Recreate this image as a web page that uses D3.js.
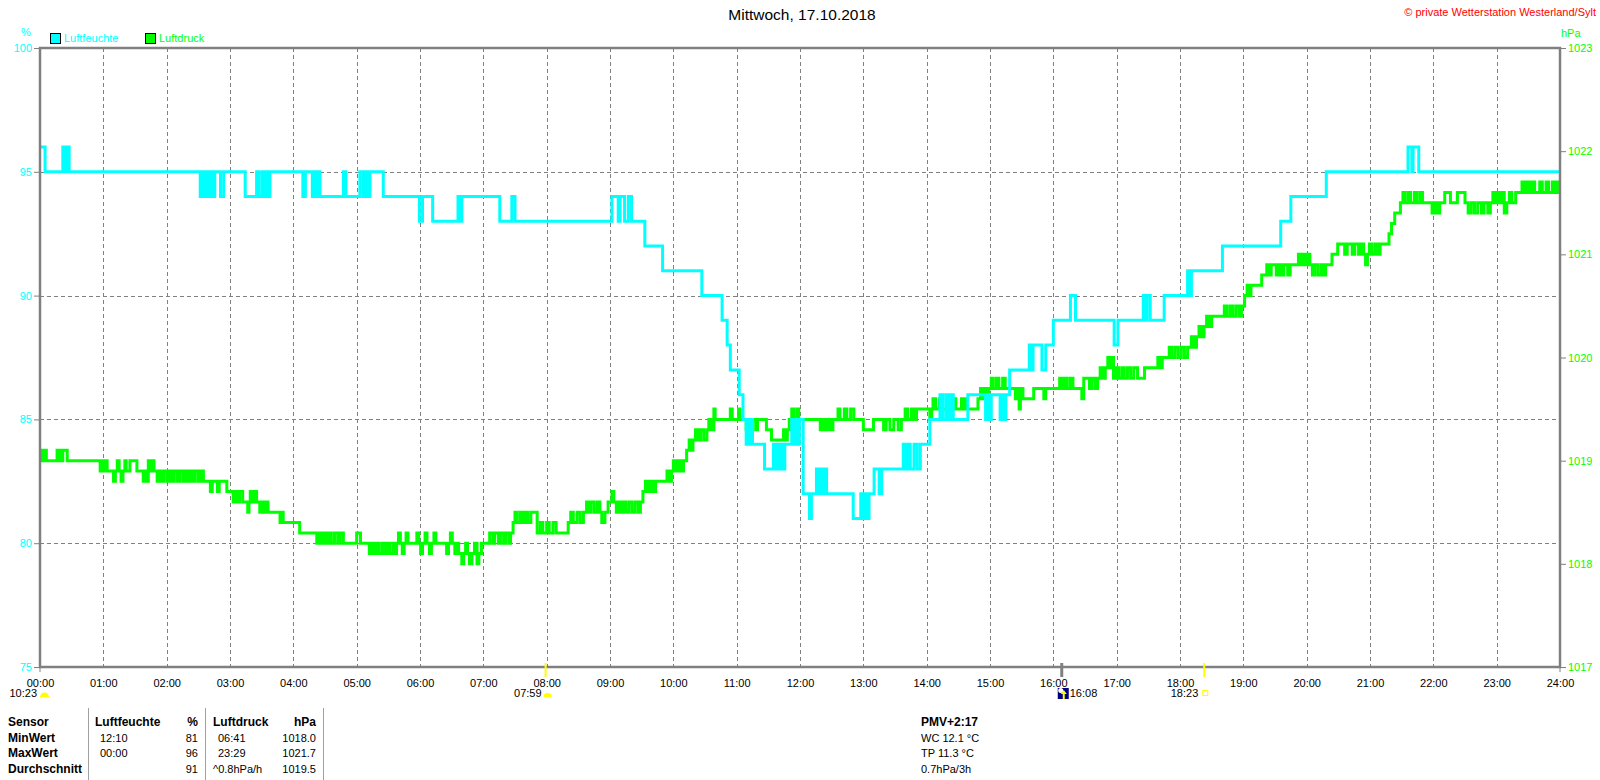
<!DOCTYPE html>
<html><head><meta charset="utf-8">
<script src="https://cdn.jsdelivr.net/npm/d3@7"></script>
<style>
html,body{margin:0;padding:0;background:#fff;}
svg{display:block;font-family:"Liberation Sans",Arial,sans-serif;}
</style></head>
<body>
<svg id="c" width="1600" height="780"></svg>
<script>
// ---------- DATA ----------
const title = "Mittwoch, 17.10.2018";
const copyright = "\u00A9 private Wetterstation Westerland/Sylt";
const seriesNames = ["Luftfeuchte", "Luftdruck"];
const hourTicks = d3.range(0, 25);
const humTicks = [75, 80, 85, 90, 95, 100];
const presTicks = [1017, 1018, 1019, 1020, 1021, 1022, 1023];

// Luftfeuchte (%): [hour, value] change points (step after)
const humidity = [
[0,96],[0.08,95],
[0.36,96],[0.38,95],[0.40,96],[0.43,95],[0.44,96],[0.46,95],
[2.53,94],[2.56,95],[2.58,94],[2.61,95],[2.63,94],[2.66,95],[2.68,94],[2.71,95],[2.73,94],[2.76,95],
[2.85,94],[2.9,95],
[3.24,94],
[3.42,95],[3.45,94],[3.5,95],[3.53,94],[3.56,95],[3.6,94],[3.63,95],
[4.15,94],[4.19,95],
[4.3,94],[4.33,95],[4.36,94],[4.39,95],[4.42,94],
[4.79,95],[4.83,94],
[5.05,95],[5.1,94],[5.14,95],[5.18,94],[5.21,95],
[5.42,94],
[5.99,93],[6.04,94],
[6.2,93],
[6.6,94],[6.63,93],[6.66,94],
[7.26,93],
[7.45,94],[7.5,93],
[9.03,94],[9.13,93],[9.16,94],[9.23,93],[9.29,94],[9.34,93],
[9.55,92],[9.83,91],[10.45,90],[10.77,89],[10.85,88],[10.9,87],[11.04,86],[11.1,85],
[11.15,84],[11.18,85],[11.21,84],[11.23,85],
[11.25,84],[11.44,83],
[11.58,84],[11.61,83],[11.64,84],[11.67,83],[11.7,84],[11.73,83],
[11.76,84],
[11.87,85],[11.9,84],[11.93,85],[11.96,84],[11.99,85],
[12.05,82],[12.15,81],[12.18,82],
[12.26,83],[12.29,82],[12.32,83],[12.35,82],[12.38,83],
[12.42,82],
[12.84,81],[12.96,82],[13.0,81],[13.04,82],[13.07,81],
[13.09,82],[13.17,83],[13.25,82],[13.29,83],
[13.63,84],[13.66,83],[13.7,84],[13.74,83],[13.8,84],[13.85,83],
[13.9,84],[14.05,85],
[14.21,86],[14.25,85],[14.3,86],[14.34,85],[14.38,86],[14.42,85],
[14.65,86],[14.93,85],[14.96,86],[14.99,85],[15.02,86],
[15.16,85],[15.2,86],[15.22,85],
[15.25,86],[15.31,87],
[15.62,88],[15.65,87],[15.68,88],
[15.82,87],[15.88,88],[16.0,89],[16.27,90],[16.35,89],[16.96,88],[17.02,89],
[17.42,90],[17.45,89],[17.48,90],[17.53,89],
[17.75,90],[18.12,91],[18.15,90],[18.18,91],
[18.67,92],[19.59,93],[19.75,94],[20.31,95],
[21.6,96],[21.66,95],[21.68,96],[21.77,95],
[24,95]
];

// Luftdruck (hPa): [hour, value] change points (step after)
const pressure = [
[0,1019.0],[0.02,1019.1],[0.04,1019.0],[0.05,1019.1],[0.07,1019.0],[0.08,1019.1],[0.1,1019.0],
[0.27,1019.1],[0.29,1019.0],[0.31,1019.1],[0.33,1019.0],[0.36,1019.1],[0.43,1019.0],
[0.95,1018.9],[0.98,1019.0],[1.0,1018.9],[1.03,1019.0],[1.06,1018.9],
[1.16,1018.8],[1.19,1018.9],[1.22,1019.0],[1.25,1018.9],[1.28,1018.8],[1.31,1018.9],[1.34,1019.0],[1.36,1018.9],
[1.42,1019.0],[1.53,1018.9],
[1.63,1018.8],[1.66,1018.9],[1.69,1018.8],[1.71,1019.0],[1.74,1018.9],[1.77,1019.0],[1.8,1018.9],
[1.85,1018.8],[1.88,1018.9],[1.92,1018.8],[1.95,1018.9],[2.0,1018.8],[2.04,1018.9],[2.08,1018.8],[2.12,1018.9],[2.17,1018.8],[2.21,1018.9],[2.26,1018.8],
[2.3,1018.9],[2.33,1018.8],[2.37,1018.9],[2.41,1018.8],[2.45,1018.9],[2.5,1018.8],[2.54,1018.9],[2.58,1018.8],
[2.69,1018.7],[2.72,1018.8],[2.8,1018.7],[2.83,1018.8],[2.95,1018.7],
[3.05,1018.6],[3.08,1018.7],[3.11,1018.6],[3.15,1018.7],[3.2,1018.6],
[3.28,1018.5],[3.3,1018.6],[3.32,1018.7],[3.35,1018.6],[3.38,1018.7],[3.42,1018.6],
[3.47,1018.5],[3.5,1018.6],[3.53,1018.5],[3.56,1018.6],[3.6,1018.5],
[3.79,1018.4],[3.82,1018.5],[3.84,1018.4],
[4.1,1018.3],
[4.37,1018.2],[4.4,1018.3],[4.44,1018.2],[4.48,1018.3],[4.52,1018.2],[4.56,1018.3],[4.6,1018.2],[4.65,1018.3],[4.7,1018.2],[4.74,1018.3],[4.79,1018.2],
[5.0,1018.3],[5.06,1018.2],
[5.2,1018.1],[5.23,1018.2],[5.27,1018.1],[5.31,1018.2],[5.35,1018.1],[5.4,1018.2],[5.44,1018.1],[5.48,1018.2],[5.52,1018.1],[5.57,1018.2],[5.6,1018.1],[5.63,1018.2],
[5.66,1018.3],[5.69,1018.2],[5.72,1018.1],[5.75,1018.2],[5.78,1018.3],[5.81,1018.2],
[5.95,1018.3],[5.98,1018.2],[6.01,1018.1],[6.04,1018.2],[6.08,1018.3],[6.11,1018.2],[6.15,1018.1],[6.18,1018.2],[6.22,1018.3],[6.25,1018.2],
[6.42,1018.1],[6.45,1018.2],[6.48,1018.3],[6.51,1018.2],[6.55,1018.1],[6.58,1018.2],[6.61,1018.1],
[6.66,1018.0],[6.69,1018.1],[6.72,1018.2],[6.75,1018.1],[6.78,1018.0],[6.82,1018.1],[6.86,1018.2],[6.9,1018.0],[6.93,1018.1],[6.97,1018.2],
[7.1,1018.3],[7.15,1018.2],[7.18,1018.3],[7.24,1018.2],[7.27,1018.3],[7.32,1018.2],[7.35,1018.3],[7.4,1018.2],[7.43,1018.3],
[7.47,1018.4],[7.5,1018.5],[7.53,1018.4],[7.58,1018.5],[7.62,1018.4],[7.66,1018.5],[7.7,1018.4],[7.75,1018.5],
[7.85,1018.3],[7.9,1018.4],[7.94,1018.3],[8.0,1018.4],[8.04,1018.3],[8.1,1018.4],[8.15,1018.3],
[8.34,1018.4],[8.38,1018.5],[8.42,1018.4],[8.48,1018.5],[8.53,1018.4],[8.58,1018.5],
[8.63,1018.6],[8.67,1018.5],[8.7,1018.6],[8.75,1018.5],[8.8,1018.6],[8.84,1018.5],
[8.87,1018.4],[8.92,1018.5],
[8.97,1018.6],[9.03,1018.7],[9.06,1018.6],
[9.1,1018.5],[9.13,1018.6],[9.17,1018.5],[9.21,1018.6],[9.25,1018.5],[9.3,1018.6],[9.35,1018.5],[9.4,1018.6],[9.45,1018.5],[9.48,1018.6],
[9.52,1018.7],[9.56,1018.8],[9.6,1018.7],[9.64,1018.8],[9.68,1018.7],[9.72,1018.8],
[9.9,1018.9],[9.94,1018.8],[9.97,1018.9],
[10.0,1019.0],[10.04,1018.9],[10.08,1019.0],[10.12,1018.9],[10.16,1019.0],
[10.21,1019.1],[10.25,1019.2],[10.28,1019.1],
[10.31,1019.2],[10.35,1019.3],[10.39,1019.2],[10.43,1019.3],[10.48,1019.2],
[10.53,1019.3],[10.56,1019.4],[10.6,1019.3],[10.64,1019.5],[10.66,1019.4],
[10.9,1019.5],[10.93,1019.4],
[11.03,1019.5],[11.05,1019.4],
[11.15,1019.3],[11.18,1019.4],[11.22,1019.3],[11.25,1019.4],[11.3,1019.3],[11.33,1019.4],
[11.47,1019.3],[11.55,1019.2],
[11.74,1019.3],[11.77,1019.2],[11.8,1019.3],[11.83,1019.4],
[11.87,1019.5],[11.9,1019.4],[11.95,1019.5],[11.98,1019.4],
[12.32,1019.3],[12.36,1019.4],[12.4,1019.3],[12.44,1019.4],[12.48,1019.3],[12.52,1019.4],
[12.6,1019.5],[12.63,1019.4],[12.7,1019.5],[12.74,1019.4],[12.8,1019.5],[12.85,1019.4],
[13.0,1019.3],[13.16,1019.4],
[13.32,1019.3],[13.36,1019.4],[13.42,1019.3],[13.48,1019.4],[13.55,1019.3],[13.6,1019.4],
[13.66,1019.5],[13.7,1019.4],[13.76,1019.5],[13.8,1019.4],
[13.84,1019.5],
[14.05,1019.4],[14.08,1019.5],
[14.1,1019.6],[14.14,1019.5],[14.2,1019.6],[14.25,1019.5],[14.32,1019.6],[14.36,1019.5],[14.42,1019.6],[14.46,1019.5],
[14.55,1019.6],[14.58,1019.5],[14.62,1019.6],[14.64,1019.5],
[14.81,1019.6],[14.85,1019.7],[14.88,1019.6],[14.92,1019.7],[14.95,1019.6],
[14.98,1019.7],[15.02,1019.8],[15.05,1019.7],[15.1,1019.8],[15.14,1019.7],[15.2,1019.8],[15.24,1019.7],
[15.4,1019.6],[15.43,1019.7],[15.46,1019.5],[15.48,1019.6],[15.5,1019.7],[15.52,1019.6],
[15.69,1019.7],[15.85,1019.6],[15.88,1019.7],
[16.1,1019.8],[16.14,1019.7],[16.18,1019.8],[16.22,1019.7],[16.27,1019.8],[16.31,1019.7],
[16.45,1019.6],[16.48,1019.8],
[16.57,1019.7],[16.61,1019.8],[16.66,1019.7],[16.7,1019.8],
[16.74,1019.9],[16.78,1019.8],[16.82,1019.9],
[16.86,1020.0],[16.9,1019.9],[16.93,1020.0],
[16.95,1019.8],[16.99,1019.9],[17.03,1019.8],[17.08,1019.9],[17.12,1019.8],[17.17,1019.9],[17.22,1019.8],[17.27,1019.9],
[17.33,1019.8],
[17.44,1019.9],
[17.65,1020.0],[17.68,1019.9],[17.72,1020.0],
[17.83,1020.1],[17.87,1020.0],[17.92,1020.1],[17.97,1020.0],[18.02,1020.1],[18.07,1020.0],[18.12,1020.1],
[18.18,1020.2],[18.22,1020.1],
[18.26,1020.2],[18.3,1020.3],[18.34,1020.2],
[18.38,1020.3],[18.42,1020.4],[18.46,1020.3],[18.5,1020.4],
[18.7,1020.5],[18.74,1020.4],[18.79,1020.5],[18.83,1020.4],[18.88,1020.5],[18.93,1020.4],[18.97,1020.5],
[19.02,1020.6],[19.06,1020.7],[19.09,1020.6],[19.12,1020.7],
[19.29,1020.8],
[19.37,1020.9],[19.4,1020.8],[19.44,1020.9],
[19.52,1020.8],[19.56,1020.9],[19.6,1020.8],[19.64,1020.9],[19.7,1020.8],[19.74,1020.9],
[19.87,1021.0],[19.9,1020.9],[19.94,1021.0],[19.98,1020.9],[20.02,1021.0],
[20.05,1020.9],[20.09,1020.8],[20.13,1020.9],[20.18,1020.8],[20.23,1020.9],[20.27,1020.8],
[20.3,1020.9],
[20.4,1021.0],[20.49,1021.1],[20.6,1021.0],[20.64,1021.1],[20.72,1021.0],[20.76,1021.1],[20.82,1021.0],[20.86,1021.1],
[20.9,1021.0],[20.93,1020.9],[20.96,1021.0],[20.99,1021.1],[21.03,1021.0],[21.08,1021.1],[21.12,1021.0],
[21.16,1021.1],
[21.3,1021.2],[21.34,1021.3],[21.39,1021.4],
[21.48,1021.5],[21.52,1021.6],[21.55,1021.5],[21.6,1021.6],[21.64,1021.5],[21.7,1021.6],[21.74,1021.5],[21.79,1021.6],
[21.83,1021.5],
[21.98,1021.4],[22.02,1021.5],[22.06,1021.4],
[22.1,1021.5],[22.18,1021.6],[22.27,1021.5],[22.38,1021.6],[22.5,1021.5],
[22.55,1021.4],[22.6,1021.5],[22.65,1021.4],[22.7,1021.5],[22.76,1021.4],[22.8,1021.5],[22.86,1021.4],[22.9,1021.5],
[22.94,1021.6],[22.98,1021.5],[23.02,1021.6],[23.06,1021.5],[23.1,1021.6],
[23.12,1021.4],[23.16,1021.5],
[23.2,1021.6],[23.24,1021.5],[23.3,1021.6],
[23.4,1021.7],[23.44,1021.6],[23.48,1021.7],[23.52,1021.6],[23.56,1021.7],[23.6,1021.6],
[23.68,1021.7],[23.72,1021.6],[23.78,1021.7],[23.82,1021.6],[23.88,1021.7],[23.92,1021.6],[23.96,1021.7],
[24,1021.7]
];

// event markers on the time axis
const eventHours = [7.983, 16.133, 18.383];
const eventLabels = ["07:59", "16:08", "18:23"];
const moonLabel = "10:23";

// summary table
const tableHeader = ["Sensor", "Luftfeuchte", "%", "Luftdruck", "hPa"];
const rowNames = ["MinWert", "MaxWert", "Durchschnitt"];
const humTimes = ["12:10", "00:00", ""];
const humValues = ["81", "96", "91"];
const presTimes = ["06:41", "23:29", "^0.8hPa/h"];
const presValues = ["1018.0", "1021.7", "1019.5"];
const pmvLines = ["PMV+2:17", "WC 12.1 \u00B0C", "TP 11.3 \u00B0C", "0.7hPa/3h"];

// ---------- DRAW ----------
const svg = d3.select("#c");
const L = 40, R = 1560, T = 48, B = 667;
const CYAN = "#00ffff", GREEN = "#00ff00", GRAY = "#808080";

const x = d3.scaleLinear().domain([0, 24]).range([L, R]);
const yH = d3.scaleLinear().domain([75, 100]).range([B, T]);
const yP = d3.scaleLinear().domain([1017, 1023]).range([B, T]);

// grid
const grid = svg.append("g").attr("stroke", GRAY).attr("stroke-width", 1).attr("stroke-dasharray", "4,3");
grid.selectAll("line.v").data(hourTicks.filter(h => h > 0 && h < 24)).join("line")
  .attr("x1", d => Math.round(x(d)) + 0.5).attr("x2", d => Math.round(x(d)) + 0.5)
  .attr("y1", T).attr("y2", B);
grid.selectAll("line.h").data(humTicks.filter(v => v > 75 && v < 100)).join("line")
  .attr("x1", L).attr("x2", R)
  .attr("y1", d => Math.round(yH(d)) + 0.5).attr("y2", d => Math.round(yH(d)) + 0.5);

// lines
const line = (ys) => d3.line().x(d => x(d[0])).y(d => ys(d[1])).curve(d3.curveStepAfter);
svg.append("path").datum(pressure).attr("d", line(yP))
  .attr("fill", "none").attr("stroke", GREEN).attr("stroke-width", 3).attr("stroke-linejoin", "miter");
svg.append("path").datum(humidity).attr("d", line(yH))
  .attr("fill", "none").attr("stroke", CYAN).attr("stroke-width", 3).attr("stroke-linejoin", "miter");

// frame
svg.append("rect").attr("x", L).attr("y", T).attr("width", R - L).attr("height", B - T)
  .attr("fill", "none").attr("stroke", GRAY).attr("stroke-width", 2.5);

// axes
const font = "Liberation Sans, Arial, sans-serif";
const axL = svg.append("g").attr("transform", `translate(${L - 1},0)`)
  .call(d3.axisLeft(yH).tickValues(humTicks).tickSize(5).tickPadding(2).tickFormat(d3.format("d")));
axL.select(".domain").remove();
axL.selectAll("line").attr("stroke", GRAY);
axL.selectAll("text").attr("fill", CYAN).attr("font-size", 11).attr("font-family", font);

const axR = svg.append("g").attr("transform", `translate(${R + 1},0)`)
  .call(d3.axisRight(yP).tickValues(presTicks).tickSize(5).tickPadding(2).tickFormat(d3.format("d")));
axR.select(".domain").remove();
axR.selectAll("line").attr("stroke", GRAY);
axR.selectAll("text").attr("fill", GREEN).attr("font-size", 11).attr("font-family", font);

const axB = svg.append("g").attr("transform", `translate(0,${B})`)
  .call(d3.axisBottom(x).tickValues(hourTicks).tickSize(0).tickPadding(12)
    .tickFormat(d => String(d).padStart(2, "0") + ":00"));
axB.select(".domain").remove();
axB.selectAll("text").attr("fill", "#000").attr("font-size", 11).attr("font-family", font);
// small ticks under the frame corners
svg.selectAll("line.cornertick").data([0, 24]).join("line")
  .attr("x1", d => x(d)).attr("x2", d => x(d)).attr("y1", B).attr("y2", B + 5)
  .attr("stroke", GRAY).attr("stroke-width", 1);

// unit labels
svg.append("text").attr("x", 26).attr("y", 36).attr("text-anchor", "middle")
  .attr("fill", CYAN).attr("font-size", 11).text("%");
svg.append("text").attr("x", 1561).attr("y", 37)
  .attr("fill", GREEN).attr("font-size", 11).text("hPa");

// title & copyright
svg.append("text").attr("x", 802).attr("y", 20).attr("text-anchor", "middle")
  .attr("font-size", 15.5).attr("fill", "#000").text(title);
svg.append("text").attr("x", 1596).attr("y", 16).attr("text-anchor", "end")
  .attr("font-size", 11).attr("fill", "#ff0000").text(copyright);

// legend
const legColors = [CYAN, GREEN];
const legX = [50, 145];
seriesNames.forEach((n, i) => {
  svg.append("rect").attr("x", legX[i] + 0.5).attr("y", 33.5).attr("width", 10).attr("height", 10)
    .attr("fill", legColors[i]).attr("stroke", "#000").attr("stroke-width", 1);
  svg.append("text").attr("x", legX[i] + 14).attr("y", 42).attr("font-size", 11)
    .attr("fill", legColors[i]).text(n);
});

// event ticks
const evColors = ["#ffff00", GRAY, "#ffff00"];
eventHours.forEach((h, i) => {
  svg.append("line").attr("x1", x(h)).attr("x2", x(h)).attr("y1", 663).attr("y2", 677)
    .attr("stroke", evColors[i]).attr("stroke-width", i === 1 ? 3 : 2);
});
// event labels row
const evY = 697;
// moon / left label
svg.append("text").attr("x", 37).attr("y", evY).attr("text-anchor", "end").attr("font-size", 11).text(moonLabel);
svg.append("path").attr("d", "M40,697 A4.5,4.5 0 0 1 49,697 Z").attr("fill", "#ffff00");
// 07:59 sunrise
svg.append("text").attr("x", x(eventHours[0]) - 4).attr("y", evY).attr("text-anchor", "end").attr("font-size", 11).text(eventLabels[0]);
svg.append("path").attr("d", `M${x(eventHours[0]) - 2},697 A4,4 0 0 1 ${x(eventHours[0]) + 6},697 Z`).attr("fill", "#ffff00");
// 16:08 icon + label
const ex = x(eventHours[1]);
svg.append("rect").attr("x", ex - 4).attr("y", 688).attr("width", 11).attr("height", 11).attr("fill", "#000080");
svg.append("circle").attr("cx", ex - 1).attr("cy", 690.5).attr("r", 2.5).attr("fill", "#fff");
svg.append("path").attr("d", `M${ex + 2},690 L${ex + 5},694 L${ex + 3},694 L${ex + 3},699 L${ex + 1},699 L${ex + 1},694 L${ex - 1},694 Z`).attr("fill", "#ffff00");
svg.append("text").attr("x", ex + 8).attr("y", evY).attr("font-size", 11).text(eventLabels[1]);
// 18:23 sunset
const sx = x(eventHours[2]);
svg.append("text").attr("x", sx - 6).attr("y", evY).attr("text-anchor", "end").attr("font-size", 11).text(eventLabels[2]);
svg.append("rect").attr("x", sx - 1.5).attr("y", 690.5).attr("width", 5).attr("height", 5)
  .attr("fill", "none").attr("stroke", "#ffff00").attr("stroke-width", 1);

// table
svg.selectAll("line.sep").data([88, 205, 323]).join("line")
  .attr("x1", d => d + 0.5).attr("x2", d => d + 0.5).attr("y1", 708).attr("y2", 780)
  .attr("stroke", "#a0a0a0").attr("stroke-width", 1);
const rowY = [726, 742, 757, 773];
const hdrX = [8, 95, 198, 213, 316];
const hdrAnchor = ["start", "start", "end", "start", "end"];
tableHeader.forEach((t, i) => {
  svg.append("text").attr("x", hdrX[i]).attr("y", rowY[0]).attr("text-anchor", hdrAnchor[i])
    .attr("font-size", 12).attr("font-weight", "bold").text(t);
});
rowNames.forEach((r, i) => {
  const yy = rowY[i + 1];
  svg.append("text").attr("x", 8).attr("y", yy).attr("font-size", 12).attr("font-weight", "bold").text(r);
  svg.append("text").attr("x", 100).attr("y", yy).attr("font-size", 11).text(humTimes[i]);
  svg.append("text").attr("x", 198).attr("y", yy).attr("text-anchor", "end").attr("font-size", 11).text(humValues[i]);
  svg.append("text").attr("x", presTimes[i].startsWith("^") ? 213 : 218).attr("y", yy).attr("font-size", 11).text(presTimes[i]);
  svg.append("text").attr("x", 316).attr("y", yy).attr("text-anchor", "end").attr("font-size", 11).text(presValues[i]);
});
pmvLines.forEach((t, i) => {
  svg.append("text").attr("x", 921).attr("y", rowY[i]).attr("font-size", i === 0 ? 12 : 11)
    .attr("font-weight", i === 0 ? "bold" : "normal").text(t);
});
</script>
</body></html>
